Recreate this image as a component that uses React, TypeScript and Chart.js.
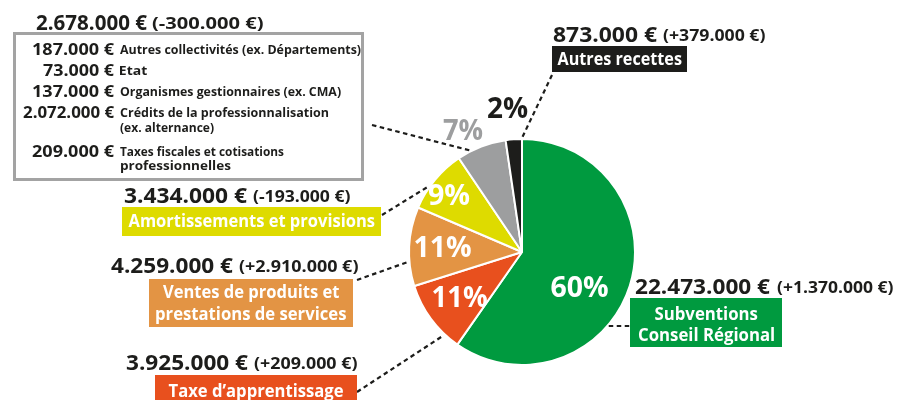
import React, { useEffect, useRef } from "react";
import { Chart, registerables } from "chart.js";

Chart.register(...registerables);

// ---------- DATA ----------
const categories = [
  "Subventions Conseil Régional",
  "Taxe d’apprentissage",
  "Ventes de produits et prestations de services",
  "Amortissements et provisions",
  "Autres financements",
  "Autres recettes",
];
const amounts = [22473000, 3925000, 4259000, 3434000, 2678000, 873000];
const changes = [1370000, 209000, 2910000, -193000, -300000, 379000];
const percentLabels = ["60%", "11%", "11%", "9%", "7%", "2%"];
const boxLabels = [
  ["Subventions", "Conseil Régional"],
  ["Taxe d’apprentissage"],
  ["Ventes de produits et", "prestations de services"],
  ["Amortissements et provisions"],
  [],
  ["Autres recettes"],
];
const detailAmounts = [187000, 73000, 137000, 2072000, 209000];
const detailLabels = [
  ["Autres collectivités (ex. Départements)"],
  ["Etat"],
  ["Organismes gestionnaires (ex. CMA)"],
  ["Crédits de la professionnalisation", "(ex. alternance)"],
  ["Taxes fiscales et cotisations", "professionnelles"],
];

// ---------- STYLE / LAYOUT ----------
const colors = ["#009a3f", "#e8501e", "#e39444", "#dedb00", "#9d9e9f", "#1d1d1b"];
const pctColors = ["#ffffff", "#ffffff", "#ffffff", "#ffffff", "#9d9e9f", "#1d1d1b"];
const DARK = "#1d1d1b";
const FONT = '"Open Sans", "Noto Sans", sans-serif';

// value headline: left x, baseline y, widths ; box rect ; box text baselines/widths ; leader
const layout = [
  { vx: 635, vy: 294, vw: 135, cx: 777, cw: 116, box: [630, 298, 152, 49], lines: [[320, 103], [341, 136]], lead: { sx: 632, sy: 327, t: 0.607, hz: true }, pct: [580, 297, 57] },
  { vx: 126, vy: 370, vw: 122, cx: 254, cw: 103, box: [155, 375, 202, 40], lines: [[397, 175]], lead: { sx: 357, sy: 392, t: 0.22 }, pct: [460, 307, 55] },
  { vx: 111, vy: 273, vw: 122, cx: 239, cw: 119, box: [149, 279, 204, 48], lines: [[298, 176], [320, 190]], lead: { sx: 357, sy: 280, t: 0.31 }, pct: [443, 257, 57] },
  { vx: 124, vy: 203, vw: 123, cx: 253, cw: 97, box: [122, 207, 259, 29], lines: [[227, 246]], lead: { sx: 382, sy: 215, t: 0.37 }, pct: [449, 205, 42] },
  { vx: 36, vy: 30, vw: 111, cx: 152, cw: 111, box: null, lines: [], lead: { sx: 372, sy: 125, t: 0.27 }, pct: [463, 140, 40] },
  { vx: 553, vy: 42, vw: 104, cx: 663, cw: 102, box: [552, 46, 135, 26], lines: [[65, 124]], lead: { sx: 552, sy: 75, t: 1.0 }, pct: [508, 118, 40] },
];
const detailRows = [
  { y: 55, aw: 83, lw: [241] },
  { y: 76, aw: 72, lw: [27] },
  { y: 97, aw: 83, lw: [221] },
  { y: 118, aw: 92, lw: [208, 94] },
  { y: 157, aw: 83, lw: [164, 111] },
];

function fmt(n: number) {
  const s = Math.abs(n).toString().replace(/\B(?=(\d{3})+(?!\d))/g, ".");
  return s + " €";
}
function fmtChange(n: number) {
  return "(" + (n >= 0 ? "+" : "-") + fmt(n) + ")";
}

function txt(
  ctx: CanvasRenderingContext2D,
  s: string,
  x: number,
  y: number,
  size: number,
  w: number | null,
  align: "left" | "right" | "center",
  color: string
) {
  ctx.save();
  ctx.font = `bold ${size}px ${FONT}`;
  ctx.fillStyle = color;
  ctx.textAlign = "left";
  ctx.textBaseline = "alphabetic";
  const m = ctx.measureText(s);
  const abl = m.actualBoundingBoxLeft;
  const abr = m.actualBoundingBoxRight;
  const ink = abl + abr;
  const sx = w ? w / ink : 1;
  let ox = x;
  if (align === "left") ox = x + sx * abl;
  else if (align === "right") ox = x - sx * abr;
  else ox = x - (sx * (abr - abl)) / 2;
  ctx.translate(ox, y);
  ctx.scale(sx, 1);
  ctx.fillText(s, 0, 0);
  ctx.restore();
}

const annotPlugin = {
  id: "annot",
  afterDatasetsDraw(chart: any) {
    const ctx: CanvasRenderingContext2D = chart.ctx;
    const meta = chart.getDatasetMeta(0);
    ctx.save();
    // leader lines
    meta.data.forEach((arc: any, i: number) => {
      const L = layout[i].lead;
      const p = arc.getProps(["x", "y", "startAngle", "endAngle", "outerRadius"], true);
      const a = p.startAngle + (p.endAngle - p.startAngle) * L.t;
      const ex = p.x + Math.cos(a) * (p.outerRadius + 1);
      const ey = p.y + Math.sin(a) * (p.outerRadius + 1);
      ctx.save();
      ctx.strokeStyle = DARK;
      ctx.lineWidth = 2.2;
      ctx.setLineDash([4.5, 3.5]);
      ctx.beginPath();
      if ((L as any).hz) {
        ctx.moveTo(ex, ey);
        ctx.lineTo(L.sx, ey);
      } else {
        ctx.moveTo(L.sx, L.sy);
        ctx.lineTo(ex, ey);
      }
      ctx.stroke();
      ctx.restore();
    });

    // per-category labels
    layout.forEach((lo, i) => {
      txt(ctx, fmt(amounts[i]), lo.vx, lo.vy, 21, lo.vw, "left", DARK);
      txt(ctx, fmtChange(changes[i]), lo.cx, lo.vy - 1, 16, lo.cw, "left", DARK);
      if (lo.box) {
        const [bx, by, bw, bh] = lo.box;
        ctx.fillStyle = colors[i];
        ctx.fillRect(bx, by, bw, bh);
        const cxm = bx + bw / 2;
        boxLabels[i].forEach((line, k) => {
          const [ly, lw] = lo.lines[k];
          txt(ctx, line, cxm, ly, 17, lw, "center", "#ffffff");
        });
      }
      const [px, py, pw] = lo.pct;
      txt(ctx, percentLabels[i], px, py, 29, pw, "center", pctColors[i]);
    });

    // detail box for "Autres financements"
    ctx.strokeStyle = "#a3a3a3";
    ctx.lineWidth = 3;
    ctx.setLineDash([]);
    ctx.strokeRect(14.5, 33.5, 348, 146);
    detailRows.forEach((r, k) => {
      txt(ctx, fmt(detailAmounts[k]), 115, r.y, 16, r.aw, "right", DARK);
      detailLabels[k].forEach((line, j) => {
        const y = j === 0 ? r.y - 1 : r.y + (k === 3 ? 14 : 13);
        txt(ctx, line, 120, y, 12, r.lw[j], "left", DARK);
      });
    });
    ctx.restore();
  },
};

export default function App() {
  const ref = useRef<HTMLCanvasElement | null>(null);
  useEffect(() => {
    if (!ref.current) return;
    const chart = new Chart(ref.current, {
      type: "pie",
      data: {
        labels: categories,
        datasets: [
          {
            data: amounts,
            backgroundColor: colors,
            borderColor: "#ffffff",
            borderWidth: 2,
            hoverOffset: 0,
          } as any,
        ],
      },
      options: {
        responsive: false,
        animation: false,
        events: [],
        layout: { padding: { left: 408, right: 261, top: 138, bottom: 34 } },
        plugins: { legend: { display: false }, tooltip: { enabled: false } },
      },
      plugins: [annotPlugin],
    });
    return () => chart.destroy();
  }, []);
  return (
    <div style={{ position: "absolute", left: 0, top: 0, width: 897, height: 400, background: "#fff" }}>
      <canvas ref={ref} width={897} height={400} style={{ display: "block" }} />
    </div>
  );
}
